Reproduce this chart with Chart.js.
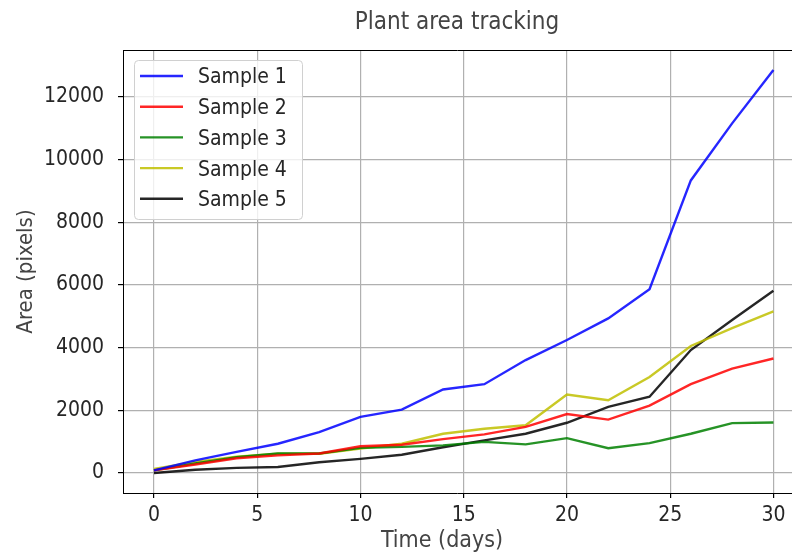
<!DOCTYPE html>
<html>
<head>
<meta charset="utf-8">
<script src="https://cdn.jsdelivr.net/npm/chart.js@4.4.1/dist/chart.umd.min.js"></script>
<style>
  html, body { margin: 0; padding: 0; background: #fff; }
</style>
</head>
<body>
<canvas id="chart" width="792" height="554"></canvas>
<script>
// data (every 2 days)
const days = [0, 2, 4, 6, 8, 10, 12, 14, 16, 18, 20, 22, 24, 26, 28, 30]
const sample1 = [80, 400, 670, 930, 1300, 1790, 2020, 2660, 2830, 3600, 4240, 4930, 5860, 9330, 11150, 12850]
const sample2 = [80, 270, 470, 560, 620, 850, 900, 1080, 1230, 1470, 1880, 1700, 2150, 2830, 3330, 3650]
const sample3 = [80, 300, 500, 620, 620, 800, 830, 880, 990, 910, 1110, 790, 950, 1250, 1590, 1610]
const sample4 = [130, 350, 520, 610, 610, 780, 930, 1250, 1410, 1520, 2500, 2320, 3060, 4050, 4620, 5150]
const sample5 = [0, 100, 160, 190, 340, 450, 580, 820, 1040, 1250, 1600, 2110, 2430, 3920, 4880, 5810]

const seriesNames = ['Sample 1', 'Sample 2', 'Sample 3', 'Sample 4', 'Sample 5']
const seriesColors = ['rgba(0,0,255,0.85)', 'rgba(255,0,0,0.85)', 'rgba(0,128,0,0.85)', 'rgba(191,191,0,0.85)', 'rgba(0,0,0,0.85)']

const xTicks = [0, 5, 10, 15, 20, 25, 30]
const yTicks = [0, 2000, 4000, 6000, 8000, 10000, 12000]

const FONT = "'DejaVu Sans Condensed', 'DejaVu Sans', sans-serif"

const allSeries = [sample1, sample2, sample3, sample4, sample5]
const datasets = allSeries.map((vals, i) => ({
    label: seriesNames[i],
    data: vals.map((v, j) => ({ x: days[j], y: v })),
    borderColor: seriesColors[i],
    backgroundColor: seriesColors[i],
    borderWidth: 2.4,
    pointRadius: 0,
    tension: 0,
    fill: false,
}))

// title, x label, top spine and legend box drawn on the canvas
const decorations = {
    id: 'decorations',
    afterDatasetsDraw(chart) {
        const { ctx, chartArea } = chart
        ctx.save()
        // top spine
        ctx.strokeStyle = '#000'
        ctx.lineWidth = 1
        ctx.beginPath()
        ctx.moveTo(chartArea.left, chartArea.top + 0.5)
        ctx.lineTo(chartArea.right, chartArea.top + 0.5)
        ctx.stroke()

        // legend
        const lx = chartArea.left + 11, ly = chartArea.top + 10
        const lw = 168, lh = 159
        ctx.fillStyle = 'rgba(255,255,255,0.8)'
        ctx.strokeStyle = '#d0d0d0'
        ctx.beginPath()
        ctx.roundRect(lx + 0.5, ly + 0.5, lw, lh, 4)
        ctx.fill()
        ctx.stroke()
        ctx.font = '21px ' + FONT
        ctx.textBaseline = 'middle'
        chart.data.datasets.forEach((ds, i) => {
            const y = ly + 16 + i * 30.7
            ctx.strokeStyle = ds.borderColor
            ctx.lineWidth = 2.4
            ctx.beginPath()
            ctx.moveTo(lx + 6, y)
            ctx.lineTo(lx + 49, y)
            ctx.stroke()
            ctx.fillStyle = '#262626'
            ctx.fillText(ds.label, lx + 64, y + 2)
        })

        // chart title + x axis label
        ctx.fillStyle = '#444'
        ctx.textAlign = 'center'
        ctx.font = '24px ' + FONT
        ctx.fillText('Plant area tracking', 457, 23)
        ctx.font = '23px ' + FONT
        ctx.fillText('Time (days)', 442, 541)
        ctx.restore()
    }
}

new Chart(document.getElementById('chart'), {
    type: 'line',
    data: { datasets },
    plugins: [decorations],
    options: {
        responsive: false,
        animation: false,
        layout: { padding: { top: 50, left: 0, right: 0, bottom: 0 } },
        plugins: {
            legend: { display: false },
            title: { display: false },
            tooltip: { enabled: false },
        },
        scales: {
            x: {
                type: 'linear',
                min: -1.5,
                max: 30.9,
                afterBuildTicks: scale => { scale.ticks = xTicks.map(v => ({ value: v })) },
                afterFit: scale => { scale.height = 61 },
                grid: { color: '#b0b0b0', lineWidth: 1.2, tickColor: '#000', tickLength: 5 },
                border: { display: true, color: '#000', width: 1 },
                ticks: {
                    font: { family: FONT, size: 21 }, color: '#262626', padding: 5, maxRotation: 0,
                    callback: v => String(v),
                },
            },
            y: {
                min: -640,
                max: 13490,
                afterBuildTicks: scale => { scale.ticks = yTicks.map(v => ({ value: v })) },
                afterFit: scale => { scale.width = 123 },
                grid: { color: '#b0b0b0', lineWidth: 1.2, tickColor: '#000', tickLength: 5 },
                border: { display: true, color: '#000', width: 1 },
                ticks: {
                    font: { family: FONT, size: 21 }, color: '#262626', padding: 14,
                    callback: v => String(v),
                },
                title: {
                    display: true, text: 'Area (pixels)',
                    font: { family: FONT, size: 22 }, color: '#444',
                    padding: { top: 13, bottom: 0 },
                },
            },
        },
    },
})
</script>
</body>
</html>
